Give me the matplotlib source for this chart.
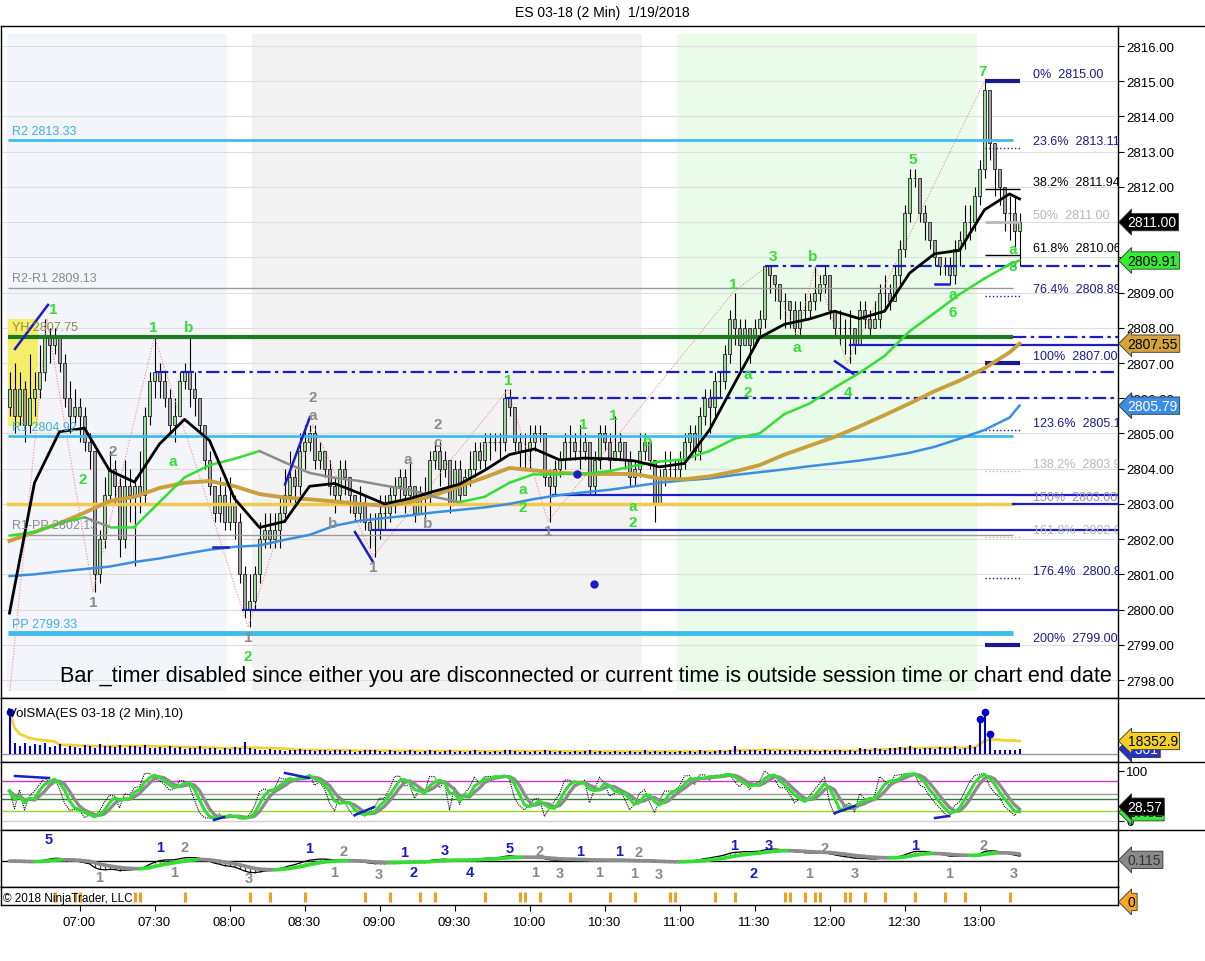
import numpy as np
import pandas as pd
import matplotlib
matplotlib.use("Agg")
import matplotlib.pyplot as plt
from matplotlib.transforms import blended_transform_factory

plt.rcParams['font.family'] = ['Liberation Sans', 'DejaVu Sans']

# ---- price bars (2 min, first bar 06:32), open = previous close ----
first_open = 2805.75
closes = [
    2806.25, 2805.5, 2806.25, 2805.25, 2806.0, 2806.25, 2806.75, 2807.75, 2807.5, 2807.75,
    2807.0, 2806.0, 2805.5, 2805.75, 2805.5, 2804.75, 2804.5, 2801.0, 2802.0, 2803.25,
    2804.0, 2803.5, 2802.0, 2803.5, 2803.25, 2803.5, 2803.25, 2805.5, 2806.5, 2806.75,
    2806.5, 2806.0, 2805.25, 2805.5, 2806.5, 2806.75, 2806.25, 2806.0, 2805.25, 2804.25,
    2803.5, 2802.75, 2803.25, 2802.5, 2803.0, 2802.5, 2801.0, 2800.0, 2800.25, 2801.0,
    2802.0, 2802.25, 2802.0, 2802.25, 2802.75, 2803.25, 2803.75, 2803.5, 2804.5, 2804.75,
    2805.0, 2804.25, 2804.5, 2804.0, 2803.5, 2803.25, 2804.0, 2803.75, 2803.25, 2802.75,
    2803.0, 2802.5, 2802.25, 2802.25, 2802.75, 2802.75, 2803.25, 2803.5, 2803.75, 2803.25,
    2803.5, 2802.75, 2803.25, 2803.25, 2804.25, 2804.5, 2804.0, 2804.25, 2803.0, 2804.0,
    2803.25, 2803.75, 2804.0, 2804.5, 2804.25, 2804.75, 2804.75, 2804.75, 2804.75, 2806.0,
    2805.75, 2804.75, 2804.5, 2804.5, 2804.75, 2805.0, 2805.0, 2803.75, 2803.5, 2804.0,
    2804.25, 2804.75, 2804.75, 2804.5, 2804.5, 2804.75, 2803.5, 2804.25, 2805.0, 2804.75,
    2804.25, 2804.5, 2804.75, 2804.25, 2803.75, 2804.0, 2804.5, 2804.75, 2804.25, 2803.0,
    2803.75, 2804.0, 2804.0, 2804.0, 2804.25, 2804.75, 2805.0, 2804.5, 2805.5, 2806.0,
    2805.75, 2806.5, 2806.5, 2807.25, 2808.25, 2808.0, 2807.5, 2808.0, 2807.5, 2808.0,
    2808.25, 2809.75, 2809.5, 2809.25, 2808.75, 2808.75, 2808.5, 2808.0, 2808.5, 2808.5,
    2808.75, 2809.0, 2809.25, 2809.5, 2808.5, 2808.0, 2808.0, 2808.0, 2808.0, 2807.5,
    2808.5, 2808.25, 2808.0, 2808.25, 2809.0, 2809.0, 2808.75, 2809.5, 2810.25, 2811.25,
    2812.25, 2812.25, 2811.25, 2811.0, 2810.5, 2810.0, 2809.75, 2809.75, 2809.5, 2810.25,
    2810.5, 2811.0, 2811.0, 2811.75, 2812.5, 2814.75, 2813.25, 2812.5, 2812.0, 2811.25,
    2811.25, 2810.75, 2811.0,
]
highs = [
    2806.75, 2807.0, 2806.75, 2806.5, 2807.25, 2806.75, 2807.5, 2808.25, 2808.0, 2808.0,
    2807.75, 2807.25, 2806.5, 2806.25, 2806.0, 2805.75, 2805.0, 2804.5, 2802.25, 2803.75,
    2804.5, 2804.25, 2803.75, 2804.25, 2804.0, 2803.75, 2804.5, 2805.75, 2806.75, 2807.75,
    2807.0, 2806.75, 2806.25, 2806.0, 2806.75, 2807.0, 2807.75, 2806.75, 2806.0, 2805.25,
    2804.5, 2803.5, 2803.75, 2803.5, 2803.75, 2803.25, 2802.75, 2801.25, 2801.0, 2801.25,
    2802.5, 2802.75, 2802.75, 2802.75, 2803.25, 2804.0, 2804.5, 2804.0, 2805.0, 2805.25,
    2805.25, 2805.25, 2804.75, 2804.5, 2804.25, 2803.75, 2804.25, 2804.25, 2803.75, 2803.25,
    2803.5, 2803.25, 2802.75, 2802.75, 2803.25, 2803.25, 2803.5, 2803.75, 2804.0, 2804.0,
    2804.25, 2803.5, 2803.5, 2803.75, 2804.5, 2804.75, 2804.75, 2804.5, 2804.25, 2804.25,
    2804.25, 2804.0, 2804.5, 2804.75, 2804.75, 2805.0, 2805.0, 2805.0, 2805.0, 2806.25,
    2806.25, 2805.75, 2805.0, 2805.0, 2805.25, 2805.25, 2805.25, 2805.0, 2804.0, 2804.25,
    2804.5, 2805.0, 2805.25, 2805.0, 2805.25, 2805.0, 2804.75, 2804.5, 2805.25, 2805.25,
    2805.0, 2805.5, 2805.0, 2804.75, 2804.5, 2804.25, 2805.0, 2805.0, 2804.75, 2804.25,
    2804.0, 2804.5, 2804.5, 2804.25, 2804.5, 2805.0, 2805.25, 2805.25, 2805.75, 2806.25,
    2806.25, 2806.75, 2806.75, 2807.5, 2808.5, 2809.0, 2808.25, 2808.25, 2808.0, 2808.25,
    2808.5, 2809.75, 2809.75, 2809.5, 2809.25, 2809.0, 2808.75, 2808.75, 2808.75, 2809.0,
    2809.0, 2809.75, 2809.5, 2809.75, 2809.5, 2808.5, 2808.5, 2808.25, 2808.5, 2808.0,
    2808.75, 2808.75, 2808.5, 2808.75, 2809.25, 2809.5, 2809.25, 2809.75, 2810.5, 2811.5,
    2812.5, 2812.5, 2812.25, 2811.5, 2811.0, 2810.5, 2810.0, 2810.0, 2810.0, 2810.5,
    2810.75, 2811.5, 2811.5, 2812.0, 2812.75, 2815.0, 2814.75, 2813.0, 2812.5, 2812.0,
    2811.75, 2811.75, 2811.25,
]
lows = [
    2805.5, 2805.0, 2805.25, 2804.75, 2805.0, 2805.5, 2806.0, 2806.5, 2807.0, 2807.25,
    2806.75, 2805.75, 2805.0, 2805.25, 2804.75, 2804.5, 2804.0, 2800.5, 2800.75, 2801.75,
    2803.0, 2803.0, 2801.5, 2801.75, 2802.5, 2801.25, 2802.75, 2803.0, 2805.25, 2806.0,
    2806.0, 2805.75, 2805.0, 2804.75, 2805.5, 2806.25, 2805.75, 2805.5, 2805.0, 2804.0,
    2803.25, 2802.5, 2802.5, 2802.25, 2802.25, 2802.0, 2800.75, 2799.75, 2799.5, 2800.0,
    2800.75, 2801.75, 2801.75, 2801.75, 2801.75, 2802.5, 2803.0, 2803.0, 2803.25, 2804.0,
    2804.5, 2804.0, 2804.0, 2803.75, 2803.25, 2802.75, 2803.0, 2803.25, 2802.75, 2802.5,
    2802.5, 2802.25, 2801.75, 2801.5, 2802.0, 2802.25, 2802.5, 2802.75, 2803.0, 2802.75,
    2803.0, 2802.5, 2802.75, 2802.5, 2803.0, 2804.0, 2803.5, 2803.75, 2802.75, 2803.0,
    2803.0, 2803.25, 2803.5, 2803.75, 2804.0, 2804.0, 2804.25, 2804.5, 2804.25, 2804.5,
    2805.5, 2804.5, 2804.0, 2804.0, 2804.0, 2804.5, 2804.75, 2803.5, 2802.5, 2803.25,
    2803.75, 2804.0, 2804.25, 2804.25, 2804.0, 2804.25, 2803.25, 2803.25, 2804.0, 2804.5,
    2804.0, 2804.25, 2804.25, 2804.0, 2803.5, 2803.5, 2803.75, 2804.25, 2804.0, 2802.5,
    2803.0, 2803.5, 2803.75, 2803.75, 2803.75, 2804.0, 2804.5, 2804.25, 2804.25, 2805.25,
    2805.0, 2805.5, 2806.0, 2806.25, 2807.0, 2807.5, 2806.75, 2807.5, 2807.0, 2807.5,
    2807.75, 2808.0, 2809.0, 2808.75, 2808.25, 2808.0, 2808.0, 2807.75, 2807.75, 2808.25,
    2808.25, 2808.5, 2808.75, 2809.0, 2808.25, 2807.75, 2807.5, 2807.25, 2807.0, 2807.25,
    2807.5, 2808.0, 2807.75, 2808.0, 2808.0, 2808.5, 2808.5, 2808.75, 2809.25, 2810.0,
    2811.0, 2812.0, 2811.0, 2810.5, 2810.25, 2809.75, 2809.5, 2809.5, 2809.25, 2809.25,
    2809.75, 2810.25, 2810.5, 2810.75, 2811.5, 2812.25, 2812.75, 2811.75, 2811.5, 2810.75,
    2810.5, 2810.25, 2809.75,
]
volumes_k = [
    59, 15, 12, 16, 11, 14, 13, 16, 10, 12, 14, 9, 12, 10, 8, 13, 11, 9, 14, 12,
    11, 10, 13, 9, 11, 12, 10, 13, 9, 8, 10, 9, 11, 8, 10, 7, 9, 8, 11, 7,
    8, 9, 6, 8, 7, 10, 9, 17, 8, 7, 6, 5, 7, 5, 6, 4, 6, 5, 7, 6,
    5, 4, 6, 5, 4, 5, 6, 4, 5, 3, 4, 5, 6, 5, 4, 3, 5, 4, 3, 4,
    5, 4, 3, 4, 6, 4, 3, 4, 5, 3, 4, 3, 4, 5, 3, 4, 3, 4, 3, 6,
    5, 4, 3, 4, 3, 4, 3, 5, 4, 3, 4, 3, 3, 4, 3, 4, 5, 3, 4, 3,
    3, 4, 3, 3, 4, 3, 3, 5, 3, 4, 3, 4, 3, 3, 4, 3, 4, 3, 5, 4,
    3, 4, 5, 4, 6, 11, 5, 4, 6, 5, 4, 7, 5, 4, 5, 4, 6, 4, 5, 4,
    5, 4, 4, 5, 4, 6, 5, 4, 5, 4, 9, 7, 6, 8, 7, 6, 9, 8, 10, 9,
    11, 8, 7, 9, 8, 7, 10, 9, 8, 12, 7, 9, 13, 10, 50, 60, 28, 6, 5, 5,
    6, 6, 7.301,
]

# ---- moving averages every 5 bars ----
ma_idx = list(range(0, 201, 5)) + [202]
ma_fast = [2799.9, 2803.6, 2805.05, 2805.15, 2803.95, 2803.62, 2804.7, 2805.4, 2804.8, 2803.15,
           2802.33, 2802.5, 2803.5, 2803.58, 2803.3, 2803.0, 2803.15, 2803.36, 2803.56, 2803.95,
           2804.4, 2804.56, 2804.25, 2804.3, 2804.28, 2804.22, 2804.05, 2804.15, 2805.1, 2806.42,
           2807.72, 2808.1, 2808.25, 2808.47, 2808.26, 2808.47, 2809.55, 2810.1, 2810.2, 2811.35,
           2811.8, 2811.66]
ma_mid = [2802.1, 2802.2, 2802.45, 2802.62, 2802.35, 2802.35, 2803.05, 2803.75, 2804.1, 2804.28,
          2804.5, 2804.18, 2803.88, 2803.74, 2803.65, 2803.52, 2803.4, 2803.2, 2803.05, 2803.2,
          2803.6, 2803.85, 2803.85, 2803.86, 2803.93, 2804.08, 2804.2, 2804.27, 2804.5, 2804.85,
          2805.0, 2805.55, 2805.85, 2806.3, 2806.72, 2807.2, 2807.9, 2808.42, 2808.95, 2809.4,
          2809.8, 2809.91]
ma_slow = [2801.95, 2802.2, 2802.45, 2802.75, 2803.08, 2803.2, 2803.45, 2803.6, 2803.65, 2803.5,
           2803.28, 2803.18, 2803.13, 2803.07, 2803.0, 2802.95, 2803.05, 2803.25, 2803.5, 2803.75,
           2804.02, 2803.95, 2803.88, 2803.85, 2803.85, 2803.85, 2803.72, 2803.7, 2803.78, 2803.92,
           2804.1, 2804.4, 2804.65, 2804.9, 2805.2, 2805.52, 2805.85, 2806.2, 2806.5, 2806.85,
           2807.3, 2807.55]
ma_long = [2800.95, 2801.0, 2801.08, 2801.15, 2801.22, 2801.35, 2801.45, 2801.58, 2801.7, 2801.78,
           2801.82, 2801.98, 2802.12, 2802.38, 2802.52, 2802.6, 2802.67, 2802.76, 2802.83, 2802.9,
           2803.0, 2803.14, 2803.25, 2803.33, 2803.4, 2803.5, 2803.6, 2803.67, 2803.72, 2803.82,
           2803.9, 2803.98, 2804.07, 2804.15, 2804.23, 2804.33, 2804.45, 2804.62, 2804.85, 2805.1,
           2805.45, 2805.79]

# ---- pivots, levels, fib ----
pivot_names = ["R2", "R2-R1", "YH", "R1", "R1-PP", "PP"]
pivot_values = [2813.33, 2809.13, 2807.75, 2804.92, 2802.13, 2799.33]
pivot_colors = ["#3cbdee", "#9a9a9a", "#1f7a1f", "#3cbdee", "#9a9a9a", "#3cbdee"]
pivot_text_colors = ["#3cb0e0", "#8a8a8a", "#8c8c4a", "#3cb0e0", "#8a8a8a", "#3cb0e0"]
pivot_widths = [2, 1, 3, 2, 1, 3.5]

level_prices = [2809.75, 2807.75, 2807.5, 2806.75, 2806.0, 2803.25, 2803.0, 2802.25, 2800.0]
level_start = [151.1, 200.7, 168.1, 29.1, 99.1, 108.7, 200.7, 72.7, 46.7]
level_dashed = [True, True, False, True, True, False, False, False, False]
gold_level = 2803.0

fib_pcts = ["0%", "23.6%", "38.2%", "50%", "61.8%", "76.4%", "100%", "123.6%",
            "138.2%", "150%", "161.8%", "176.4%", "200%"]
fib_prices = [2815.00, 2813.11, 2811.94, 2811.00, 2810.06, 2808.89, 2807.00, 2805.11,
              2803.94, 2803.00, 2802.06, 2800.89, 2799.00]
NAVY = "#1a1a8c"
fib_colors = [NAVY, NAVY, "black", "#b8b8b8", "black", NAVY, NAVY, NAVY,
              "#b8b8b8", "#9090a8", "#b8b8b8", NAVY, NAVY]
fib_styles = ["-", ":", "-", "-", "-", ":", "-", ":", ":", None, ":", ":", "-"]
fib_widths = [3, 1, 1, 2, 1, 1, 3, 1, 1, 1, 1, 1, 3]

zigzag_idx = [0.1, 7.5, 16.7, 29.0, 47.7, 60.7, 72.7, 99.7, 107.7, 144.7, 151.5, 157.5, 161.1, 167.5, 195.0]
zigzag_px = [2797.7, 2808.25, 2800.5, 2807.75, 2799.5, 2805.25, 2801.5, 2806.25, 2802.5,
             2809.0, 2809.75, 2807.75, 2809.75, 2807.0, 2815.0]

trend_segments = [((1.1, 2807.4), (7.7, 2808.65)), ((55.1, 2803.55), (60.1, 2805.47)),
                  ((69.1, 2802.2), (72.7, 2801.35)), ((165.1, 2807.05), (168.7, 2806.7)),
                  ((185.1, 2809.23), (187.9, 2809.23)), ((40.7, 2801.77), (43.7, 2801.77))]
dot_idx = [113.4, 116.9]
dot_px = [2803.84, 2800.72]

green_labels = [(8.7, 2808.53, "1"), (28.7, 2808.02, "1"), (35.9, 2808.02, "b"), (14.7, 2803.71, "2"),
                (32.7, 2804.22, "a"), (47.7, 2798.68, "2"), (99.7, 2806.52, "1"), (114.7, 2805.27, "1"),
                (120.7, 2805.52, "1"), (127.7, 2804.78, "b"), (102.7, 2803.42, "a"), (102.7, 2802.91, "2"),
                (124.7, 2802.94, "a"), (124.7, 2802.49, "2"), (144.7, 2809.24, "1"), (152.7, 2810.04, "3"),
                (160.7, 2810.04, "b"), (147.7, 2806.69, "a"), (147.7, 2806.18, "2"), (157.5, 2807.45, "a"),
                (167.7, 2806.18, "4"), (180.7, 2812.79, "5"), (194.7, 2815.29, "7"), (188.7, 2808.96, "a"),
                (188.7, 2808.45, "6"), (200.7, 2810.24, "a"), (200.7, 2809.75, "8")]
gray_labels = [(16.7, 2800.21, "1"), (20.7, 2804.5, "2"), (60.7, 2806.03, "2"), (60.7, 2805.52, "a"),
               (47.7, 2799.22, "1"), (64.7, 2802.46, "b"), (72.7, 2801.21, "1"), (79.7, 2804.27, "a"),
               (85.7, 2805.27, "2"), (85.7, 2804.76, "c"), (83.7, 2802.46, "b"), (107.7, 2802.23, "1")]

stoch_levels = [80, 55, 45, 20, 0]
stoch_level_colors = ["#cc33cc", "#9a9a9a", "#2e7d32", "#9ad62a", "#d0d0d0"]
stoch_segments = [((1.1, 90), (7.9, 86)), ((55.1, 96), (59.9, 86)), ((40.9, 2), (42.9, 8)),
                  ((69.1, 12), (72.9, 28)), ((165.1, 16), (169.1, 30)), ((185.1, 6), (187.9, 10))]

BLUE_T, GRAY_T = "#1a1acc", "#8a8a8a"
macd_labels = [(7.9, 0.84, "5", BLUE_T), (30.1, 0.70, "1", BLUE_T), (35.1, 0.70, "2", GRAY_T),
               (17.9, 0.18, "1", GRAY_T), (32.9, 0.26, "1", GRAY_T), (47.9, 0.16, "3", GRAY_T),
               (59.9, 0.68, "1", BLUE_T), (66.9, 0.63, "2", GRAY_T), (64.9, 0.26, "1", GRAY_T),
               (73.9, 0.23, "3", GRAY_T), (78.9, 0.61, "1", BLUE_T), (80.9, 0.26, "2", BLUE_T),
               (87.1, 0.65, "3", BLUE_T), (92.1, 0.26, "4", BLUE_T), (100.1, 0.68, "5", BLUE_T),
               (106.1, 0.63, "2", GRAY_T), (105.1, 0.26, "1", GRAY_T), (110.1, 0.25, "3", GRAY_T),
               (114.1, 0.63, "1", BLUE_T), (117.9, 0.26, "1", GRAY_T), (121.9, 0.63, "1", BLUE_T),
               (125.9, 0.61, "2", GRAY_T), (124.9, 0.25, "1", GRAY_T), (129.9, 0.23, "3", GRAY_T),
               (144.9, 0.74, "1", BLUE_T), (151.9, 0.74, "3", BLUE_T), (148.9, 0.25, "2", BLUE_T),
               (163.1, 0.68, "2", GRAY_T), (159.9, 0.25, "1", GRAY_T), (169.1, 0.25, "3", GRAY_T),
               (181.1, 0.74, "1", BLUE_T), (187.9, 0.25, "1", GRAY_T), (194.9, 0.74, "2", GRAY_T),
               (200.9, 0.25, "3", GRAY_T)]

alert_idx = [9, 13, 14, 25, 26, 35, 48, 52, 59, 71, 76, 82, 85, 95, 102, 103, 106, 112, 120, 125,
             132, 133, 141, 145, 155, 156, 159, 161, 162, 167, 168, 171, 175, 181, 187, 191, 200]

time_labels = ["07:00", "07:30", "08:00", "08:30", "09:00", "09:30", "10:00", "10:30",
               "11:00", "11:30", "12:00", "12:30", "13:00"]
time_minutes = [420 + 30 * k for k in range(len(time_labels))]
FIRST_BAR_MIN = 392  # 06:32

# ---- layout helpers (pixel boxes) ----
W, H = 1205, 962
fig = plt.figure(figsize=(W / 100, H / 100), dpi=100)


def box(x0, y0, x1, y1):
    return [x0 / W, 1 - y1 / H, (x1 - x0) / W, (y1 - y0) / H]


ax = fig.add_axes(box(1, 27, 1118, 699))
axv = fig.add_axes(box(1, 699, 1118, 763), sharex=ax)
axs = fig.add_axes(box(1, 763, 1118, 831), sharex=ax)
axm = fig.add_axes(box(1, 831, 1118, 888), sharex=ax)
axk = fig.add_axes(box(1, 888, 1118, 906), sharex=ax)
ax.set_xlim(-1.7, 221.7)

for a in (ax, axv, axs, axm, axk):
    for sp in a.spines.values():
        sp.set_linewidth(1.0)
        sp.set_color("black")
    a.yaxis.tick_right()
    a.tick_params(axis="x", bottom=False, labelbottom=False)
    a.tick_params(axis="y", length=4, pad=2, labelsize=9.5, colors="black")

fig.text(0.5, 1 - 13 / H, "ES 03-18 (2 Min)  1/19/2018", ha="center", va="center", fontsize=10)
for yy in (27, 699, 763, 831):
    fig.add_artist(plt.Line2D([1118 / W, 1], [1 - yy / H] * 2, color="black", lw=1))

# ---- main price panel ----
ax.set_ylim(2797.489, 2816.568)
price_ticks = np.arange(2798, 2817)
ax.set_yticks(price_ticks)
# tick labels hidden under the price flags in the reference are left blank
ax.set_yticklabels(["" if v in (2810, 2811) else f"{v:.2f}" for v in price_ticks])
ax.grid(axis="y", color="#dedede", lw=0.8, zorder=0.5)
ax.set_axisbelow(True)

for (a0, a1, col) in [(-0.5, 43.5, "#f4f5fb"), (48.5, 126.5, "#f2f2f2"), (133.5, 193.4, "#eafbea")]:
    ax.axvspan(a0, a1, ymin=0.011, ymax=0.988, color=col, lw=0, zorder=0.2)

ax.add_patch(plt.Rectangle((-0.3, 2805.2), 6.0, 3.05, fc="#f4ee5a", ec="none", alpha=0.9, zorder=2))

c = np.array(closes)
hi = np.array(highs)
lo = np.array(lows)
o = np.r_[first_open, c[:-1]]
idx = np.arange(len(c))
up = c >= o
ax.vlines(idx, np.minimum(lo, np.minimum(o, c)), np.maximum(hi, np.maximum(o, c)),
          color="black", lw=0.8, zorder=3)
ax.bar(idx, np.abs(c - o), bottom=np.minimum(o, c), width=0.76,
       color=np.where(up, "#9ed89b", "#a3a3a3"), edgecolor="#222222", lw=0.6, zorder=4)

ax.plot(zigzag_idx, zigzag_px, color="#ef8a8a", lw=0.8, ls=(0, (1, 1.5)), zorder=3.5)

for name, val, col, tcol, lw in zip(pivot_names, pivot_values, pivot_colors, pivot_text_colors, pivot_widths):
    ax.plot([-0.3, 200.7], [val, val], color=col, lw=lw, zorder=5, solid_capstyle="butt")
    ax.text(0.5, val + 0.1, f"{name} {val:.2f}", color=tcol, fontsize=9, va="bottom", ha="left", zorder=7)
ax.plot([-0.3, 200.7], [gold_level, gold_level], color="#f2c94c", lw=2.5, zorder=5)

for p, s, dashed in zip(level_prices, level_start, level_dashed):
    ax.plot([s, 221.7], [p, p], color="#1c1cc8", lw=1.6,
            ls=(0, (6, 2, 1.5, 2)) if dashed else "-", zorder=5)

for p, col, st, lw in zip(fib_prices, fib_colors, fib_styles, fib_widths):
    if st is not None:
        ax.plot([195.1, 202.1], [p, p], color=col, lw=lw, ls=st, zorder=5, solid_capstyle="butt")
for pct, p, col in zip(fib_pcts, fib_prices, fib_colors):
    ax.text(204.7, p + 0.2, f"{pct}  {p:.2f}", color=col, fontsize=9, va="center", ha="left",
            zorder=7, clip_on=True)

ax.plot(ma_idx, ma_long, color="#3b8fe0", lw=1.8, zorder=6, solid_joinstyle="round")
ax.plot(ma_idx, ma_slow, color="#c9a03c", lw=2.8, zorder=6, solid_joinstyle="round")
for k in range(len(ma_idx) - 1):
    rising = ma_mid[k + 1] >= ma_mid[k]
    ax.plot(ma_idx[k:k + 2], ma_mid[k:k + 2], color="#33dd33" if rising else "#8c8c8c",
            lw=1.8, zorder=6, solid_capstyle="round")
ax.plot(ma_idx, ma_fast, color="black", lw=2, zorder=6, solid_joinstyle="round")

for (p0, p1) in trend_segments:
    ax.plot([p0[0], p1[0]], [p0[1], p1[1]], color="#1c1cc8", lw=1.8, zorder=6)
ax.plot(dot_idx, dot_px, "o", color="#1c1cc8", ms=5, zorder=6)

for x, y, t in green_labels:
    ax.text(x, y, t, color="#33dd33", fontsize=11, fontweight="bold", ha="center", va="center", zorder=7)
for x, y, t in gray_labels:
    ax.text(x, y, t, color="#8c8c8c", fontsize=11, fontweight="bold", ha="center", va="center", zorder=7)

ax.text(115.2, 2798.14, "Bar _timer disabled since either you are disconnected or current time is "
        "outside session time or chart end date", ha="center", va="center", fontsize=15.6, zorder=8)


def flag(a, yval, text, fc, tc):
    tr = blended_transform_factory(a.transAxes, a.transData)
    a.annotate(text, xy=(1, yval), xycoords=tr, xytext=(7, 0), textcoords="offset points",
               ha="left", va="center", fontsize=10, color=tc, annotation_clip=False, zorder=10,
               bbox=dict(boxstyle="larrow,pad=0.12", fc=fc, ec="#333333", lw=0.6))


flag(ax, 2805.79, "2805.79", "#3a8ee6", "white")
flag(ax, 2807.55, "2807.55", "#d4a437", "black")
flag(ax, 2809.91, "2809.91", "#33ee33", "black")
flag(ax, 2811.00, "2811.00", "black", "white")

# ---- volume panel ----
vol = np.array(volumes_k) * 1000
axv.set_ylim(-11300, 79100)
axv.set_yticks([])
axv.axhline(0, color="#9a9a9a", lw=1, zorder=1)
axv.vlines(idx, 0, vol, color="#0000c8", lw=1.5, zorder=3)
big = vol > 25000
axv.plot(idx[big], vol[big], "o", color="#0000c8", ms=4.5, zorder=4)
axv.plot(idx, pd.Series(vol).rolling(10, min_periods=1).mean(), color="#f2d230", lw=2, zorder=2)
axv.text(0.006, 0.76, "VolSMA(ES 03-18 (2 Min),10)", transform=axv.transAxes, fontsize=9.5,
         ha="left", va="center", zorder=5)
flag(axv, 7301, "7301", "#2233cc", "white")
flag(axv, 18352.9, "18352.9", "#f5d020", "black")

# ---- stochastics panel ----
axs.set_ylim(-18, 118)
axs.set_yticks([0, 100])
axs.set_yticklabels(["0", "100"])
for lv, col in zip(stoch_levels, stoch_level_colors):
    axs.axhline(lv, color=col, lw=1, zorder=1)
hh = pd.Series(highs).rolling(10, min_periods=1).max()
ll = pd.Series(lows).rolling(10, min_periods=1).min()
k_raw = 100 * (pd.Series(closes) - ll) / (hh - ll).replace(0, np.nan)
k_raw = k_raw.fillna(50)
k_sm = k_raw.rolling(3, min_periods=1).mean()
d_sm = k_sm.rolling(3, min_periods=1).mean()
axs.plot(idx, k_raw, color="black", lw=0.8, ls=(0, (1, 1)), zorder=2)
axs.plot(idx, d_sm, color="#8c8c8c", lw=2.4, zorder=3)
axs.plot(idx, k_sm, color="#33dd33", lw=2.2, zorder=4)
for (p0, p1) in stoch_segments:
    axs.plot([p0[0], p1[0]], [p0[1], p1[1]], color="#1c1cc8", lw=1.8, zorder=5)
flag(axs, 17.5, "17.52", "#33ee33", "black")
flag(axs, 28.57, "28.57", "black", "white")

# ---- MACD panel ----
cs = pd.Series(closes)
macd = cs.ewm(span=12, adjust=False).mean() - cs.ewm(span=26, adjust=False).mean()
sig = macd.ewm(span=9, adjust=False).mean()
axm.set_ylim(-2.6, 3.1)
axm.set_yticks([])
axm.axhline(0, color="black", lw=1, zorder=1)
above = macd.values >= sig.values
axm.vlines(idx[above], sig.values[above], macd.values[above], color="#33bb33", lw=0.9, zorder=2)
axm.vlines(idx[~above], sig.values[~above], macd.values[~above], color="#444444", lw=0.9, zorder=2)
axm.plot(idx, macd, color="black", lw=0.9, zorder=3)
for k in range(len(idx) - 1):
    rising = sig.iloc[k + 1] >= sig.iloc[k]
    axm.plot(idx[k:k + 2], sig.iloc[k:k + 2], color="#33dd33" if rising else "#8c8c8c", lw=2.6,
             zorder=4, solid_capstyle="round")
for x, yf, t, col in macd_labels:
    axm.text(x, yf, t, color=col, fontsize=10.5, fontweight="bold", ha="center", va="center",
             transform=blended_transform_factory(axm.transData, axm.transAxes), clip_on=True, zorder=6)
flag(axm, 0.115, "0.115", "#8a8a8a", "#333333")

# ---- alert markers + time axis ----
axk.set_ylim(0, 1)
axk.set_yticks([])
axk.vlines(alert_idx, 0.17, 0.72, color="#f0a020", lw=2.2)
axk.text(0.002, 0.4, "\u00a9 2018 NinjaTrader, LLC", transform=axk.transAxes, fontsize=8.5,
         ha="left", va="center")
flag(axk, 0.17, "0", "#f5a623", "black")
tick_idx = [(m - FIRST_BAR_MIN) / 2 for m in time_minutes]
axk.set_xticks(tick_idx)
axk.set_xticklabels(time_labels)
axk.tick_params(axis="x", bottom=True, labelbottom=True, length=4, labelsize=9.5, pad=4)

fig.savefig("out.png", dpi=100)
